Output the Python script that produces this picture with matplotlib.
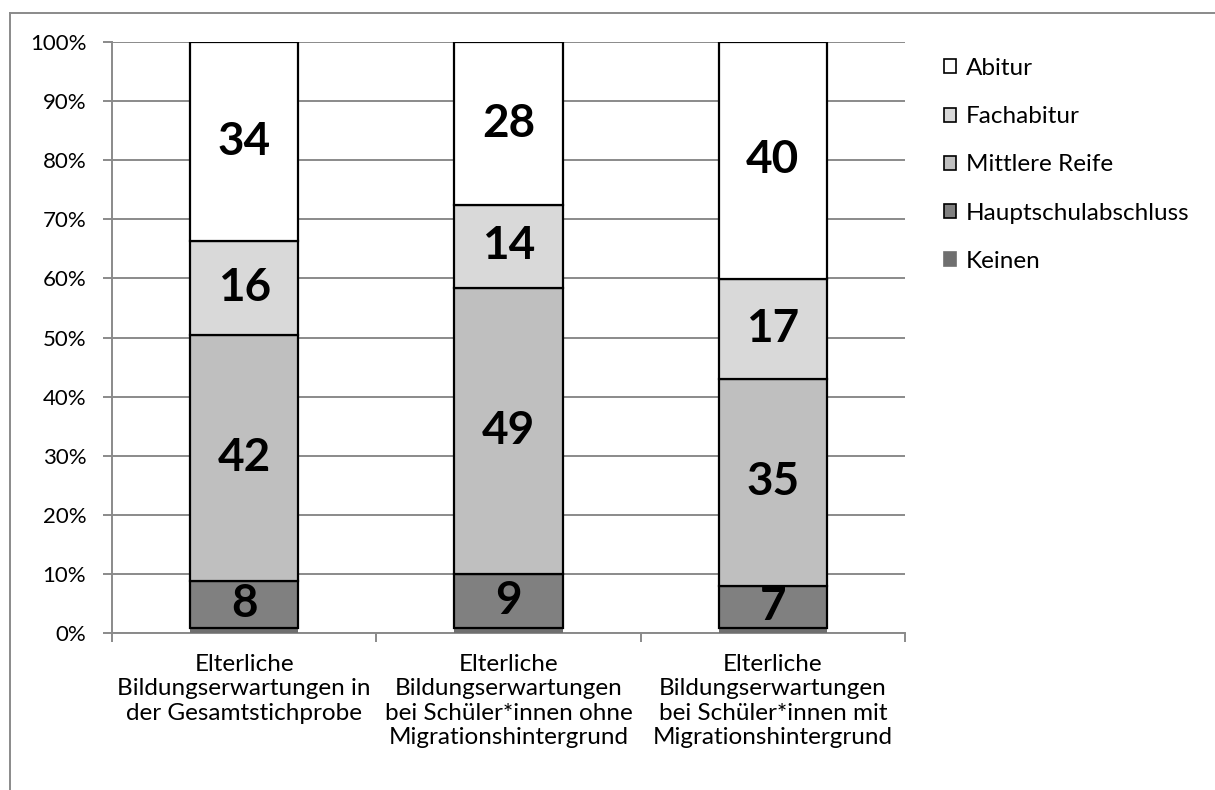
import numpy as np
import matplotlib.pyplot as plt
from matplotlib.lines import Line2D
from matplotlib.patches import Patch

plt.rcParams['font.family'] = ['Lato', 'DejaVu Sans']

### data (percent of each group)
groups = ["Elterliche\nBildungserwartungen in\nder Gesamtstichprobe",
          "Elterliche\nBildungserwartungen\nbei Schüler*innen ohne\nMigrationshintergrund",
          "Elterliche\nBildungserwartungen\nbei Schüler*innen mit\nMigrationshintergrund"]
keinen = [0.9, 0.9, 0.9]
haupt = [7.9, 9.1, 7.1]
mittlere = [41.7, 48.4, 35.0]
fach = [15.8, 14.0, 16.9]
abitur = [33.7, 27.6, 40.1]
shown = {"Hauptschulabschluss": [8, 9, 7],
         "Mittlere Reife": [42, 49, 35],
         "Fachabitur": [16, 14, 17],
         "Abitur": [34, 28, 40]}

series = [("Keinen", keinen, "#6f6f6f", "none"),
          ("Hauptschulabschluss", haupt, "#808080", "black"),
          ("Mittlere Reife", mittlere, "#bfbfbf", "black"),
          ("Fachabitur", fach, "#d9d9d9", "black"),
          ("Abitur", abitur, "#ffffff", "black")]

fig = plt.figure(figsize=(12.15, 7.9), dpi=100)
ax = fig.add_axes([112/1215, 1-633/790, (905-112)/1215, (633-42)/790])

x = np.arange(len(groups))
bottom = np.zeros(len(groups))
handles = []
for name, vals, col, ec in series:
    vals = np.array(vals)
    ax.bar(x, vals, width=0.41, bottom=bottom, color=col, edgecolor=ec,
           linewidth=1.6, zorder=3)
    if name in shown:
        for i in range(len(x)):
            ax.text(x[i], bottom[i]+vals[i]/2, str(shown[name][i]), ha="center",
                    va="center", fontsize=33, fontweight="bold", zorder=4)
    handles.append(Patch(facecolor=col, edgecolor=ec if ec != "none" else col, linewidth=1.2, label=name))
    bottom = bottom + vals

ax.set_xlim(-0.5, 2.5)
ax.set_ylim(0, 100)
ax.set_yticks(np.arange(0, 101, 10))
ax.set_yticklabels([f"{v}%" for v in range(0, 101, 10)], fontsize=16)
ax.yaxis.grid(True, color="#8a8a8a", linewidth=1.4, zorder=0)
ax.set_axisbelow(True)
ax.set_xticks(x)
ax.set_xticklabels(groups, fontsize=17.5, linespacing=1.2)
ax.set_xticks([-0.5, 0.5, 1.5, 2.5], minor=True)
ax.tick_params(axis="x", which="major", length=0, pad=15)
ax.tick_params(axis="x", which="minor", length=6.5, color="#8a8a8a", width=1.4)
ax.tick_params(axis="y", length=6.5, color="#8a8a8a", width=1.4, pad=12)
for s in ["top", "right"]:
    ax.spines[s].set_visible(False)
for s in ["left", "bottom"]:
    ax.spines[s].set_color("#8a8a8a")
    ax.spines[s].set_linewidth(1.4)

ax.legend(handles=handles[::-1], loc="upper left", bbox_to_anchor=(944/1215, 1-58/790),
          bbox_transform=fig.transFigure, frameon=False, fontsize=17.5,
          handlelength=0.5, handleheight=0.5, handletextpad=0.4, labelspacing=1.12,
          borderaxespad=0, borderpad=0)

# outer chart frame (only top and left edges visible)
fig.add_artist(Line2D([10/1215, 1], [1-13/790, 1-13/790], transform=fig.transFigure,
                      color="#8a8a8a", linewidth=1.4))
fig.add_artist(Line2D([10/1215, 10/1215], [0, 1-13/790], transform=fig.transFigure,
                      color="#8a8a8a", linewidth=1.4))

plt.savefig("out.png", dpi=100)
